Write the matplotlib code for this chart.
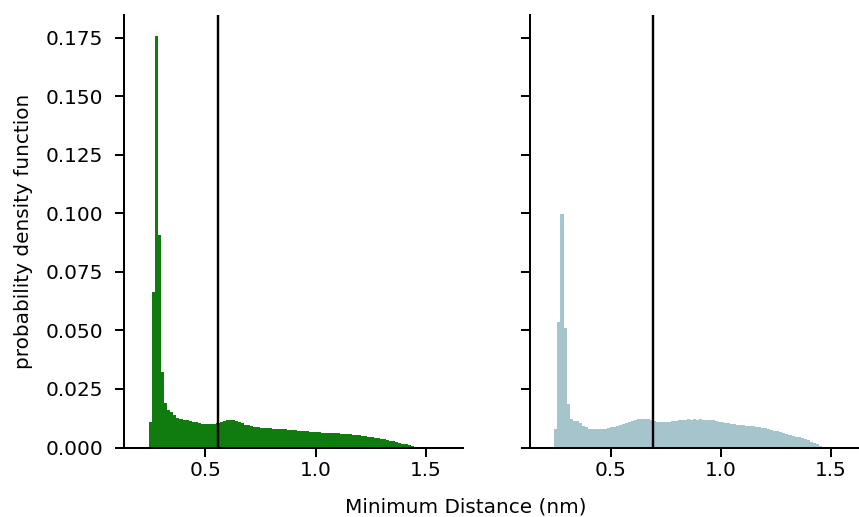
import numpy as np
import matplotlib
matplotlib.use("Agg")
import matplotlib.pyplot as plt

# ---- data ----
bin_start = 0.2
bin_stop = 1.6
n_bins = 100

left_pdf = [
    0, 0, 0, 0.0109, 0.0665, 0.1760, 0.0910, 0.0323, 0.0191, 0.0162,
    0.0152, 0.0138, 0.0127, 0.0120, 0.0117, 0.0116, 0.0112, 0.0110, 0.0107, 0.0105,
    0.0102, 0.0100, 0.0100, 0.0101, 0.0102, 0.0105, 0.0109, 0.0113, 0.0116, 0.0117,
    0.0116, 0.0113, 0.0108, 0.0103, 0.0098, 0.0095, 0.0092, 0.0088, 0.0086, 0.0085,
    0.0084, 0.0083, 0.0082, 0.0081, 0.0080, 0.0079, 0.0078, 0.0077, 0.0075, 0.0074,
    0.0073, 0.0072, 0.0071, 0.0070, 0.0069, 0.0068, 0.0067, 0.0066, 0.0065, 0.0064,
    0.0063, 0.0062, 0.0062, 0.0061, 0.0060, 0.0059, 0.0058, 0.0057, 0.0056, 0.0055,
    0.0053, 0.0052, 0.0050, 0.0048, 0.0046, 0.0044, 0.0042, 0.0040, 0.0037, 0.0035,
    0.0032, 0.0029, 0.0026, 0.0023, 0.0020, 0.0017, 0.0013, 0.0010, 0.0007, 0.0004,
    0.0002, 0, 0, 0, 0, 0, 0, 0, 0, 0,
]

right_pdf = [
    0, 0, 0, 0.0077, 0.0537, 0.0997, 0.0511, 0.0188, 0.0120, 0.0115,
    0.0113, 0.0105, 0.0090, 0.0087, 0.0080, 0.0077, 0.0077, 0.0079, 0.0081, 0.0081,
    0.0084, 0.0087, 0.0088, 0.0092, 0.0095, 0.0100, 0.0106, 0.0110, 0.0114, 0.0118,
    0.0121, 0.0123, 0.0122, 0.0121, 0.0118, 0.0112, 0.0110, 0.0109, 0.0109, 0.0110,
    0.0111, 0.0112, 0.0114, 0.0116, 0.0117, 0.0118, 0.0120, 0.0119, 0.0120, 0.0119,
    0.0120, 0.0118, 0.0118, 0.0117, 0.0116, 0.0113, 0.0110, 0.0108, 0.0106, 0.0104,
    0.0102, 0.0100, 0.0098, 0.0096, 0.0095, 0.0093, 0.0092, 0.0091, 0.0089, 0.0087,
    0.0085, 0.0082, 0.0079, 0.0076, 0.0072, 0.0069, 0.0066, 0.0062, 0.0058, 0.0055,
    0.0051, 0.0047, 0.0043, 0.0039, 0.0035, 0.0030, 0.0025, 0.0020, 0.0014, 0.0008,
    0.0003, 0, 0, 0, 0, 0, 0, 0, 0, 0,
]

left_mean = 0.558
right_mean = 0.690

left_color = "#107c10"
right_color = "#a5c4cc"

x_label = "Minimum Distance (nm)"
y_label = "probability density function"

# ---- plot ----
DPI = 144
fig = plt.figure(figsize=(859 / DPI, 517 / DPI), dpi=DPI)
plt.rcParams["font.family"] = ["DejaVu Sans"]

W, H = 859, 517
ax_bottom = (H - 447.5) / H
ax_height = 432.5 / H
ax_width = 339 / W
ax1 = fig.add_axes([124 / W, ax_bottom, ax_width, ax_height])
ax2 = fig.add_axes([529.6 / W, ax_bottom, ax_width, ax_height], sharex=ax1, sharey=ax1)

edges = np.linspace(bin_start, bin_stop, n_bins + 1)
centers = 0.5 * (edges[:-1] + edges[1:])

for ax, vals, col, m in [(ax1, left_pdf, left_color, left_mean),
                         (ax2, right_pdf, right_color, right_mean)]:
    ax.hist(centers, bins=edges, weights=vals, color=col)
    ax.axvline(m, color="black", lw=1.2)
    for s in ["top", "right"]:
        ax.spines[s].set_visible(False)
    for s in ["left", "bottom"]:
        ax.spines[s].set_linewidth(1.0)
    ax.tick_params(axis="y", width=1.0, length=4.5, pad=6, labelsize=10)
    ax.tick_params(axis="x", width=1.0, length=4.5, pad=2.5, labelsize=10)

ax1.set_xticks([0.5, 1.0, 1.5])
ax1.set_yticks(np.arange(0, 0.176, 0.025))
ax2.tick_params(labelleft=False)

fig.text(24 / W, (H - 231) / H, y_label, rotation=90, ha="center", va="center", fontsize=10)
fig.text(466 / W, (H - 507) / H, x_label, ha="center", va="center", fontsize=10)

fig.savefig("out.png", dpi=DPI)
